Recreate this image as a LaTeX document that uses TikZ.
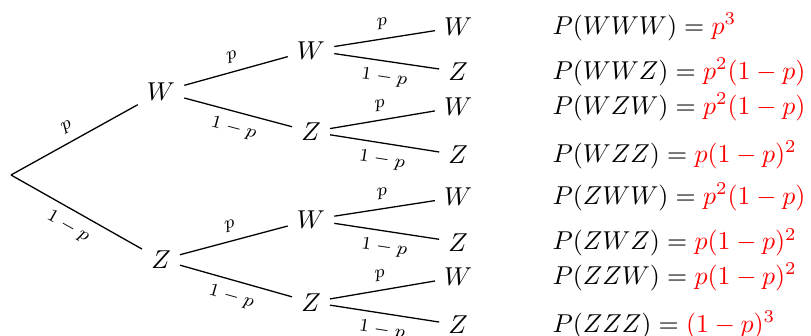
\documentclass[tikz,border=0pt]{standalone}
\usepackage{amsmath}
\usetikzlibrary{positioning}
\tikzset{
  lvl/.style={font=\normalsize},
  res/.style={anchor=west, font=\normalsize},
  pup/.style={midway, sloped, above, font=\scriptsize},
  pdn/.style={midway, sloped, below, font=\scriptsize},
}

\begin{document}
\begin{tikzpicture}[x=1.087cm, y=1.087cm, line width=0.5pt]
  \useasboundingbox (-0.1375,-2.0125) rectangle (10.0,2.1875);
  % Wurzel und erste Stufe
  \coordinate (r) at (0,0);
  \node[lvl] (w) at (1.875,1.04) {$W$};
  \node[lvl] (z) at (1.875,-1.06) {$Z$};
  % zweite Stufe
  \node[lvl] (ww) at (3.75,1.56) {$W$};
  \node[lvl] (wz) at (3.75,0.54) {$Z$};
  \node[lvl] (zw) at (3.75,-0.56) {$W$};
  \node[lvl] (zz) at (3.75,-1.59) {$Z$};
  % dritte Stufe
  \node[lvl] (www) at (5.59,1.85) {$W$};
  \node[lvl] (wwz) at (5.59,1.29) {$Z$};
  \node[lvl] (wzw) at (5.59,0.85) {$W$};
  \node[lvl] (wzz) at (5.59,0.25) {$Z$};
  \node[lvl] (zww) at (5.59,-0.275) {$W$};
  \node[lvl] (zwz) at (5.59,-0.84) {$Z$};
  \node[lvl] (zzw) at (5.59,-1.275) {$W$};
  \node[lvl] (zzz) at (5.59,-1.875) {$Z$};
  % Kanten
  \draw (r) -- node[pup] {$p$} (w);
  \draw (r) -- node[pdn] {$1-p$} (z);
  \draw (w) -- node[pup] {$p$} (ww);
  \draw (w) -- node[pdn] {$1-p$} (wz);
  \draw (z) -- node[pup] {$p$} (zw);
  \draw (z) -- node[pdn] {$1-p$} (zz);
  \draw (ww) -- node[pup] {$p$} (www);
  \draw (ww) -- node[pdn] {$1-p$} (wwz);
  \draw (wz) -- node[pup] {$p$} (wzw);
  \draw (wz) -- node[pdn] {$1-p$} (wzz);
  \draw (zw) -- node[pup] {$p$} (zww);
  \draw (zw) -- node[pdn] {$1-p$} (zwz);
  \draw (zz) -- node[pup] {$p$} (zzw);
  \draw (zz) -- node[pdn] {$1-p$} (zzz);
  % Wahrscheinlichkeiten
  \node[res] (pwww) at (6.655,1.85) {$P(WWW) = \textcolor{red}{p^3}$};
  \node[res] (pwwz) at (6.655,1.29) {$P(WWZ) = \textcolor{red}{p^2(1-p)}$};
  \node[res] (pwzw) at (6.655,0.85) {$P(WZW) = \textcolor{red}{p^2(1-p)}$};
  \node[res] (pwzz) at (6.655,0.25) {$P(WZZ) = \textcolor{red}{p(1-p)^2}$};
  \node[res] (pzww) at (6.655,-0.275) {$P(ZWW) = \textcolor{red}{p^2(1-p)}$};
  \node[res] (pzwz) at (6.655,-0.84) {$P(ZWZ) = \textcolor{red}{p(1-p)^2}$};
  \node[res] (pzzw) at (6.655,-1.275) {$P(ZZW) = \textcolor{red}{p(1-p)^2}$};
  \node[res] (pzzz) at (6.655,-1.875) {$P(ZZZ) = \textcolor{red}{(1-p)^3}$};
\end{tikzpicture}
\end{document}
